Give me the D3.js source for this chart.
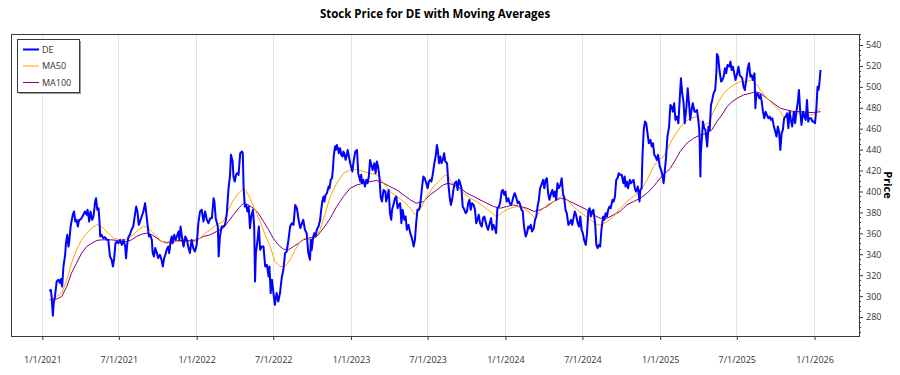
<!DOCTYPE html>
<html>
<head>
<meta charset="utf-8">
<script src="https://cdn.jsdelivr.net/npm/d3@7"></script>
<style>
  html, body { margin: 0; padding: 0; background: #fff; }
  svg { display: block; font-family: "Open Sans", "Noto Sans", sans-serif; }
</style>
</head>
<body>
<svg id="chart" width="900" height="375"></svg>
<script>
// Days are counted from 1/1/2021.
const BASE_DATE = new Date(Date.UTC(2021, 0, 1));
const X_DOMAIN = ['2020-10-19', '2026-04-16'];
const Y_DOMAIN = [261.9, 550.5];
const X_TICKS = ['2021-01-01', '2021-07-01', '2022-01-01', '2022-07-01', '2023-01-01', '2023-07-01',
  '2024-01-01', '2024-07-01', '2025-01-01', '2025-07-01', '2026-01-01'];
const Y_TICKS = [280, 300, 320, 340, 360, 380, 400, 420, 440, 460, 480, 500, 520, 540];
const SERIES_NAMES = ['DE', 'MA50', 'MA100'];

const deClose = [
  [17,304.5],[20,306.1],[22,299.7],[25,281.2],[27,293.3],[30,299.7],[34,314.0],[38,315.6],[42,312.4],[44,316.3],
  [47,309.2],[50,328.3],[54,339.5],[56,350.6],[59,358.6],[62,347.4],[64,353.8],[67,366.5],[72,377.7],[75,380.9],
  [78,371.3],[81,372.9],[84,366.5],[87,372.9],[91,373.5],[95,376.1],[101,380.9],[105,377.7],[107,382.5],[111,371.3],
  [114,380.9],[118,372.9],[121,376.1],[125,390.4],[127,393.6],[130,382.5],[133,384.0],[135,372.9],[137,357.0],[140,358.6],
  [144,355.4],[148,356.4],[152,353.8],[156,353.8],[160,337.9],[164,334.7],[167,328.3],[170,336.3],[173,350.6],[176,352.2],
  [180,350.6],[184,353.8],[188,349.0],[192,353.8],[196,347.4],[198,336.3],[201,350.6],[204,357.0],[207,358.6],[211,363.4],
  [215,366.5],[219,377.7],[222,385.6],[225,380.9],[228,368.1],[231,371.3],[235,376.1],[239,380.9],[243,388.8],[245,382.5],
  [248,371.3],[252,357.0],[255,358.6],[259,353.8],[261,341.1],[264,337.9],[267,345.9],[271,341.1],[274,336.3],[278,339.5],
  [282,334.7],[285,328.3],[288,336.3],[291,339.5],[294,344.3],[298,347.4],[300,341.1],[304,353.8],[306,357.0],[308,350.6],
  [312,358.6],[315,353.8],[318,357.0],[322,361.8],[324,353.8],[327,366.5],[330,357.0],[334,347.4],[338,357.0],[342,353.8],
  [345,347.4],[349,341.1],[353,353.8],[357,345.9],[361,342.7],[365,349.0],[369,369.7],[373,380.9],[377,382.5],[381,371.3],
  [385,380.9],[389,372.9],[393,369.7],[397,374.5],[401,374.5],[405,393.6],[407,390.4],[410,374.5],[413,369.7],[415,366.5],
  [417,337.9],[420,357.0],[424,366.5],[428,366.5],[432,368.1],[436,377.7],[440,401.6],[444,415.9],[446,435.0],[450,428.6],
  [452,414.3],[455,409.5],[458,415.9],[461,417.5],[464,415.9],[468,436.6],[472,438.2],[474,436.6],[476,403.1],[479,385.6],
  [482,387.2],[485,380.9],[488,385.6],[491,365.0],[494,376.1],[498,382.5],[501,366.5],[503,314.0],[505,341.1],[509,353.8],
  [512,366.5],[515,344.3],[519,347.4],[523,347.4],[527,328.3],[531,329.9],[535,318.8],[537,328.3],[540,302.9],[543,315.6],
  [547,301.3],[550,291.7],[554,302.9],[558,294.9],[562,302.9],[566,317.2],[570,325.2],[574,341.1],[578,342.7],[582,353.8],
  [586,366.5],[590,369.7],[594,368.1],[598,387.2],[602,384.0],[606,372.9],[610,365.0],[614,369.7],[617,372.9],[621,363.4],
  [625,360.2],[629,341.1],[633,334.7],[635,353.8],[637,344.2],[640,355.4],[643,360.2],[646,357.0],[649,363.4],[653,366.5],
  [657,372.9],[659,380.9],[662,390.4],[665,395.2],[667,390.4],[670,396.8],[673,398.4],[677,404.7],[679,403.1],[682,411.1],
  [685,412.7],[687,420.6],[689,433.4],[692,442.9],[694,439.7],[696,444.5],[699,441.3],[701,436.6],[704,441.3],[707,434.9],
  [710,433.4],[712,438.1],[714,436.6],[717,430.2],[720,434.9],[722,439.7],[725,433.4],[728,427.0],[730,423.8],[733,419.0],
  [736,428.6],[738,433.4],[740,438.1],[744,439.7],[747,417.5],[749,414.3],[752,409.5],[754,415.9],[756,407.9],[759,411.1],
  [763,404.7],[766,411.1],[769,407.9],[772,414.3],[775,430.2],[778,425.4],[781,420.6],[785,427.0],[788,417.5],[791,428.6],
  [794,423.8],[797,414.3],[800,395.2],[803,390.4],[807,401.5],[811,400.0],[813,390.4],[816,395.2],[819,401.5],[822,379.3],
  [825,372.9],[827,382.5],[830,387.2],[834,393.6],[837,395.2],[840,384.0],[843,387.2],[846,388.8],[849,369.7],[852,382.5],
  [856,372.9],[859,376.1],[862,363.4],[866,368.1],[870,360.2],[874,355.4],[878,347.4],[881,353.8],[884,369.7],[887,382.5],
  [890,382.5],[893,385.6],[896,396.8],[898,404.7],[901,414.3],[904,412.7],[908,407.9],[911,403.1],[914,409.5],[917,411.1],
  [920,409.5],[923,415.9],[927,427.0],[930,433.4],[933,444.5],[935,439.7],[938,427.0],[941,433.4],[944,427.0],[947,430.2],
  [950,436.6],[953,428.6],[957,427.0],[960,407.9],[963,395.2],[966,387.2],[969,392.0],[972,401.5],[975,407.9],[979,409.5],
  [982,401.5],[985,411.1],[988,407.9],[991,403.1],[994,385.6],[998,382.5],[1001,379.3],[1004,380.9],[1007,388.8],[1010,392.0],
  [1013,382.5],[1016,388.8],[1020,387.2],[1023,382.5],[1026,369.7],[1029,372.9],[1032,377.7],[1035,369.7],[1039,366.5],[1042,374.5],
  [1045,376.1],[1048,371.3],[1051,366.5],[1054,363.4],[1057,368.1],[1061,374.5],[1064,363.4],[1067,368.1],[1070,364.9],[1073,360.2],
  [1076,384.0],[1080,385.6],[1083,390.4],[1086,400.0],[1089,401.5],[1092,396.8],[1095,400.0],[1098,390.4],[1102,393.6],[1105,388.8],
  [1108,387.2],[1111,390.4],[1114,395.2],[1117,398.4],[1121,393.6],[1124,388.8],[1127,390.4],[1130,387.2],[1133,382.5],[1136,380.9],
  [1139,366.5],[1143,357.0],[1146,360.2],[1149,366.5],[1152,364.9],[1155,368.1],[1158,361.8],[1162,364.9],[1165,372.9],[1168,376.1],
  [1171,385.6],[1174,392.0],[1177,403.1],[1180,406.3],[1184,411.1],[1187,403.1],[1190,411.1],[1193,412.7],[1196,398.4],[1199,392.0],
  [1203,398.4],[1206,401.5],[1209,395.2],[1212,400.0],[1215,392.0],[1218,407.9],[1221,403.1],[1225,406.3],[1228,412.7],[1231,398.4],
  [1234,393.6],[1237,382.5],[1240,379.3],[1244,368.1],[1247,369.7],[1250,372.9],[1253,368.1],[1256,374.5],[1259,380.9],[1262,377.7],
  [1266,369.7],[1269,366.5],[1272,376.1],[1275,363.4],[1278,360.2],[1281,353.8],[1285,349.0],[1288,360.2],[1291,380.9],[1294,384.0],
  [1297,376.1],[1300,380.9],[1303,382.5],[1307,369.7],[1310,349.0],[1313,345.8],[1316,349.0],[1319,347.4],[1322,363.4],[1326,376.1],
  [1329,372.9],[1332,379.3],[1335,376.1],[1338,382.5],[1341,385.6],[1344,384.0],[1348,392.0],[1351,390.4],[1354,395.2],[1357,411.1],
  [1360,412.7],[1363,417.5],[1366,415.9],[1370,415.9],[1374,407.9],[1377,414.3],[1379,404.7],[1382,409.5],[1385,403.1],[1389,411.1],
  [1392,407.9],[1395,409.5],[1398,411.1],[1401,403.1],[1404,399.9],[1408,404.7],[1411,395.2],[1412,390.4],[1414,401.5],[1417,403.1],
  [1419,433.4],[1422,458.8],[1425,466.8],[1428,465.2],[1431,455.6],[1434,446.1],[1438,449.3],[1441,442.9],[1444,446.1],[1447,435.0],
  [1450,433.4],[1453,430.2],[1456,435.0],[1460,423.8],[1463,420.6],[1466,415.9],[1469,407.9],[1472,420.6],[1475,433.4],[1478,452.5],
  [1482,462.0],[1485,482.7],[1488,481.1],[1491,476.3],[1494,484.3],[1497,468.4],[1501,471.6],[1504,465.2],[1507,487.5],[1510,508.2],
  [1513,493.8],[1516,485.9],[1519,465.2],[1523,481.1],[1526,498.6],[1529,484.3],[1532,468.4],[1535,477.9],[1538,484.3],[1542,476.3],
  [1545,476.3],[1548,477.9],[1551,468.4],[1553,460.4],[1554,452.5],[1556,414.3],[1557,436.5],[1560,454.0],[1562,466.8],[1565,460.4],
  [1568,458.8],[1572,442.9],[1575,462.0],[1578,458.8],[1581,482.7],[1584,487.5],[1587,493.8],[1591,497.0],[1594,514.5],[1595,531.4],
  [1598,528.9],[1601,516.1],[1605,505.0],[1608,506.6],[1611,509.8],[1614,517.7],[1617,512.9],[1620,520.9],[1624,519.3],[1627,524.1],
  [1630,516.1],[1633,519.3],[1636,512.9],[1639,506.6],[1643,512.9],[1646,519.3],[1649,511.3],[1652,509.8],[1655,508.2],[1658,500.2],
  [1661,497.0],[1665,508.2],[1668,517.7],[1671,522.5],[1674,509.8],[1677,511.3],[1680,506.6],[1684,512.9],[1686,479.5],[1688,492.3],
  [1691,493.8],[1695,489.1],[1698,492.3],[1701,485.9],[1704,476.3],[1707,470.0],[1710,476.3],[1713,473.2],[1717,470.0],[1720,471.6],
  [1723,468.4],[1726,470.0],[1729,463.6],[1732,458.8],[1736,452.5],[1739,462.0],[1742,457.2],[1745,439.7],[1748,455.6],[1751,458.8],
  [1754,470.0],[1758,471.6],[1761,474.7],[1764,460.4],[1767,476.3],[1770,468.4],[1773,462.0],[1777,476.3],[1780,465.2],[1783,476.3],
  [1786,484.3],[1789,497.0],[1792,476.3],[1795,463.6],[1799,476.3],[1802,471.6],[1805,468.4],[1808,487.5],[1811,466.8],[1814,470.0],
  [1818,470.0],[1821,466.8],[1824,466.8],[1827,465.2],[1830,477.9],[1833,500.2],[1835,497.0],[1837,501.8],[1840,516.1]
];

const ma50 = [
  [17,296.5],[34,299.7],[46,302.9],[58,315.6],[69,331.5],[81,344.3],[93,353.8],[105,360.2],[117,365.0],[129,368.1],
  [135,368.1],[144,365.0],[156,360.2],[168,355.4],[180,353.8],[192,353.8],[204,355.4],[215,358.6],[227,363.4],[239,366.5],
  [247,365.9],[255,363.4],[267,358.6],[278,353.8],[290,350.6],[302,350.6],[318,352.2],[334,352.2],[349,352.2],[361,352.2],
  [369,353.8],[381,358.6],[397,363.4],[412,368.1],[428,371.3],[440,382.5],[452,392.0],[464,398.4],[476,403.1],[483,400.0],
  [491,393.6],[503,382.5],[515,371.3],[527,358.6],[539,347.4],[550,333.1],[562,328.3],[574,328.3],[586,334.7],[598,344.3],
  [610,352.2],[621,355.4],[633,353.8],[645,355.4],[657,363.3],[669,379.3],[681,395.2],[696,407.9],[712,417.5],[728,420.6],
  [744,421.3],[759,419.0],[775,417.5],[791,415.9],[807,407.9],[822,400.0],[838,395.2],[854,390.4],[870,384.0],[882,377.7],
  [893,382.5],[909,395.2],[925,404.7],[941,411.1],[953,415.9],[960,414.3],[972,406.3],[984,403.1],[996,398.4],[1012,393.6],
  [1027,390.4],[1043,385.6],[1059,380.9],[1075,375.4],[1090,380.9],[1106,384.0],[1122,385.6],[1138,384.0],[1154,379.3],[1165,374.5],
  [1177,380.9],[1193,387.2],[1209,390.4],[1225,395.2],[1232,396.8],[1248,388.8],[1264,382.5],[1280,377.7],[1296,372.9],[1311,368.1],
  [1323,368.1],[1335,371.3],[1351,376.1],[1366,384.0],[1382,390.4],[1398,395.2],[1414,400.0],[1430,411.1],[1445,423.8],[1457,430.2],
  [1469,433.4],[1477,439.7],[1489,449.3],[1501,457.2],[1516,465.2],[1532,470.0],[1548,471.6],[1556,466.8],[1564,463.6],[1575,465.2],
  [1587,476.3],[1599,485.9],[1611,493.8],[1623,498.6],[1635,501.8],[1650,505.0],[1666,505.0],[1678,506.6],[1686,503.4],[1698,497.0],
  [1710,490.7],[1721,485.9],[1733,481.1],[1745,476.3],[1753,471.6],[1761,473.2],[1773,476.3],[1784,474.7],[1796,474.7],[1808,473.2],
  [1820,473.2],[1828,474.7],[1836,477.9],[1840,479.5]
];

const ma100 = [
  [17,296.5],[34,297.2],[46,299.7],[58,309.2],[69,322.0],[81,331.5],[93,341.1],[105,347.4],[117,350.6],[129,353.2],
  [140,353.8],[152,353.8],[164,353.8],[176,353.2],[188,352.2],[200,352.2],[211,353.8],[223,357.0],[235,359.2],[247,360.2],
  [259,358.6],[271,355.4],[282,352.2],[294,351.3],[306,352.2],[318,352.9],[334,353.2],[349,352.9],[365,353.8],[381,357.0],
  [397,358.6],[412,361.8],[428,365.0],[440,371.3],[452,377.7],[464,384.0],[476,388.8],[487,387.2],[499,384.0],[511,379.3],
  [523,371.3],[535,363.4],[546,355.4],[558,349.0],[570,344.9],[582,344.3],[594,347.4],[606,350.6],[617,353.8],[629,355.4],
  [649,357.0],[665,364.9],[681,374.5],[696,385.6],[712,395.2],[728,403.1],[744,406.3],[759,407.9],[775,409.5],[791,410.5],
  [807,407.9],[822,404.7],[838,401.5],[854,396.8],[870,392.0],[884,388.8],[901,390.4],[917,396.8],[933,401.5],[948,406.3],
  [960,407.9],[972,406.3],[988,403.1],[1004,398.4],[1020,395.2],[1035,392.0],[1051,388.8],[1067,385.6],[1083,384.0],[1098,385.6],
  [1114,387.2],[1130,385.6],[1146,384.0],[1162,380.9],[1177,382.5],[1193,385.6],[1209,390.4],[1225,393.6],[1240,392.0],[1256,388.8],
  [1272,385.6],[1288,382.5],[1303,377.7],[1319,374.5],[1335,374.5],[1351,377.7],[1366,380.9],[1382,387.2],[1398,390.4],[1414,393.6],
  [1430,398.4],[1445,404.7],[1461,412.7],[1473,417.5],[1485,422.2],[1497,430.2],[1508,438.1],[1524,446.1],[1540,450.9],[1556,454.0],
  [1572,455.6],[1583,458.8],[1595,466.8],[1607,473.2],[1619,481.1],[1631,485.9],[1643,489.1],[1658,492.3],[1674,493.8],[1686,495.4],
  [1698,493.8],[1713,489.1],[1729,484.3],[1745,479.5],[1761,477.9],[1777,476.3],[1792,476.3],[1808,475.7],[1824,475.4],[1840,476.3]
];

const WIDTH = 900;
const HEIGHT = 375;
const margin = { top: 34, right: 41, bottom: 39, left: 11 };
const innerW = WIDTH - margin.left - margin.right;
const innerH = HEIGHT - margin.top - margin.bottom;
const TEXT_COLOR = '#333';
const FRAME_COLOR = '#3a3a3a';

const series = [
  { name: SERIES_NAMES[0], rows: deClose, color: '#0000ff', width: 2 },
  { name: SERIES_NAMES[1], rows: ma50, color: '#ffa500', width: 1 },
  { name: SERIES_NAMES[2], rows: ma100, color: '#800080', width: 1 }
];

const toDate = (day) => d3.utcDay.offset(BASE_DATE, day);

const x = d3.scaleUtc().domain(X_DOMAIN.map((s) => new Date(s + 'T00:00:00Z'))).range([0, innerW]);
const y = d3.scaleLinear().domain(Y_DOMAIN).range([innerH, 0]);

const svg = d3.select('#chart');

svg.append('text')
  .attr('x', margin.left + innerW / 2)
  .attr('y', 18)
  .attr('text-anchor', 'middle')
  .attr('font-size', 11.5)
  .attr('font-weight', 700)
  .attr('fill', '#000')
  .text('Stock Price for DE with Moving Averages');

const g = svg.append('g').attr('transform', `translate(${margin.left},${margin.top})`);

svg.append('defs').append('clipPath').attr('id', 'plotClip')
  .append('rect').attr('width', innerW).attr('height', innerH);

// Vertical grid at every date tick.
const xTickDates = X_TICKS.map((s) => new Date(s + 'T00:00:00Z'));
g.append('g')
  .selectAll('line')
  .data(xTickDates)
  .join('line')
  .attr('x1', (d) => x(d)).attr('x2', (d) => x(d))
  .attr('y1', 0).attr('y2', innerH)
  .attr('stroke', '#e4e4e4')
  .attr('stroke-width', 1)
  .attr('shape-rendering', 'crispEdges');

// Bottom axis.
const xAxis = g.append('g')
  .attr('transform', `translate(0,${innerH})`)
  .call(d3.axisBottom(x).tickValues(xTickDates).tickFormat(d3.utcFormat('%-m/%-d/%Y')).tickSize(4).tickPadding(17));
xAxis.select('.domain').remove();
xAxis.selectAll('line').attr('stroke', FRAME_COLOR);
xAxis.selectAll('text').attr('fill', TEXT_COLOR).attr('font-size', 9).attr('font-family', '"Open Sans", sans-serif');

// Right axis, with minor ticks every 5.
const minorTicks = d3.range(265, 551, 5).filter((v) => v % 20 !== 0);
g.append('g')
  .attr('transform', `translate(${innerW},0)`)
  .selectAll('line')
  .data(minorTicks)
  .join('line')
  .attr('x1', 0).attr('x2', 2)
  .attr('y1', (d) => y(d)).attr('y2', (d) => y(d))
  .attr('stroke', FRAME_COLOR)
  .attr('shape-rendering', 'crispEdges');

const yAxis = g.append('g')
  .attr('transform', `translate(${innerW},0)`)
  .call(d3.axisRight(y).tickValues(Y_TICKS).tickSize(4).tickPadding(3));
yAxis.select('.domain').remove();
yAxis.selectAll('line').attr('stroke', FRAME_COLOR);
yAxis.selectAll('text').attr('fill', TEXT_COLOR).attr('font-size', 9).attr('font-family', '"Open Sans", sans-serif');

svg.append('text')
  .attr('transform', `translate(884,${margin.top + innerH / 2}) rotate(90)`)
  .attr('text-anchor', 'middle')
  .attr('font-size', 11)
  .attr('font-weight', 700)
  .attr('fill', '#000')
  .text('Price');

// Price and moving-average lines.
const line = d3.line()
  .x((d) => x(toDate(d[0])))
  .y((d) => y(d[1]));

g.append('g')
  .attr('clip-path', 'url(#plotClip)')
  .selectAll('path')
  .data([...series].reverse())
  .join('path')
  .attr('d', (s) => line(s.rows))
  .attr('fill', 'none')
  .attr('stroke', (s) => s.color)
  .attr('stroke-width', (s) => s.width)
  .attr('stroke-linejoin', 'round');

// Plot frame.
g.append('rect')
  .attr('x', 0.5).attr('y', 0.5)
  .attr('width', innerW).attr('height', innerH)
  .attr('fill', 'none')
  .attr('stroke', FRAME_COLOR)
  .attr('stroke-width', 1);

// Legend with a small drop shadow.
const legend = svg.append('g').attr('transform', 'translate(17,39)');
legend.append('rect')
  .attr('x', 2).attr('y', 2).attr('width', 62).attr('height', 53)
  .attr('fill', '#9a9a9a');
legend.append('rect')
  .attr('x', 0.5).attr('y', 0.5).attr('width', 62).attr('height', 53)
  .attr('fill', '#fff')
  .attr('stroke', FRAME_COLOR);
const item = legend.selectAll('g.item')
  .data(series)
  .join('g')
  .attr('class', 'item')
  .attr('transform', (s, i) => `translate(0,${10.5 + i * 16.5})`);
item.append('line')
  .attr('x1', 6).attr('x2', 22)
  .attr('stroke', (s) => s.color)
  .attr('stroke-width', (s) => s.width);
item.append('text')
  .attr('x', 25)
  .attr('dy', '0.35em')
  .attr('font-size', 9)
  .attr('fill', TEXT_COLOR)
  .text((s) => s.name);
</script>
</body>
</html>
